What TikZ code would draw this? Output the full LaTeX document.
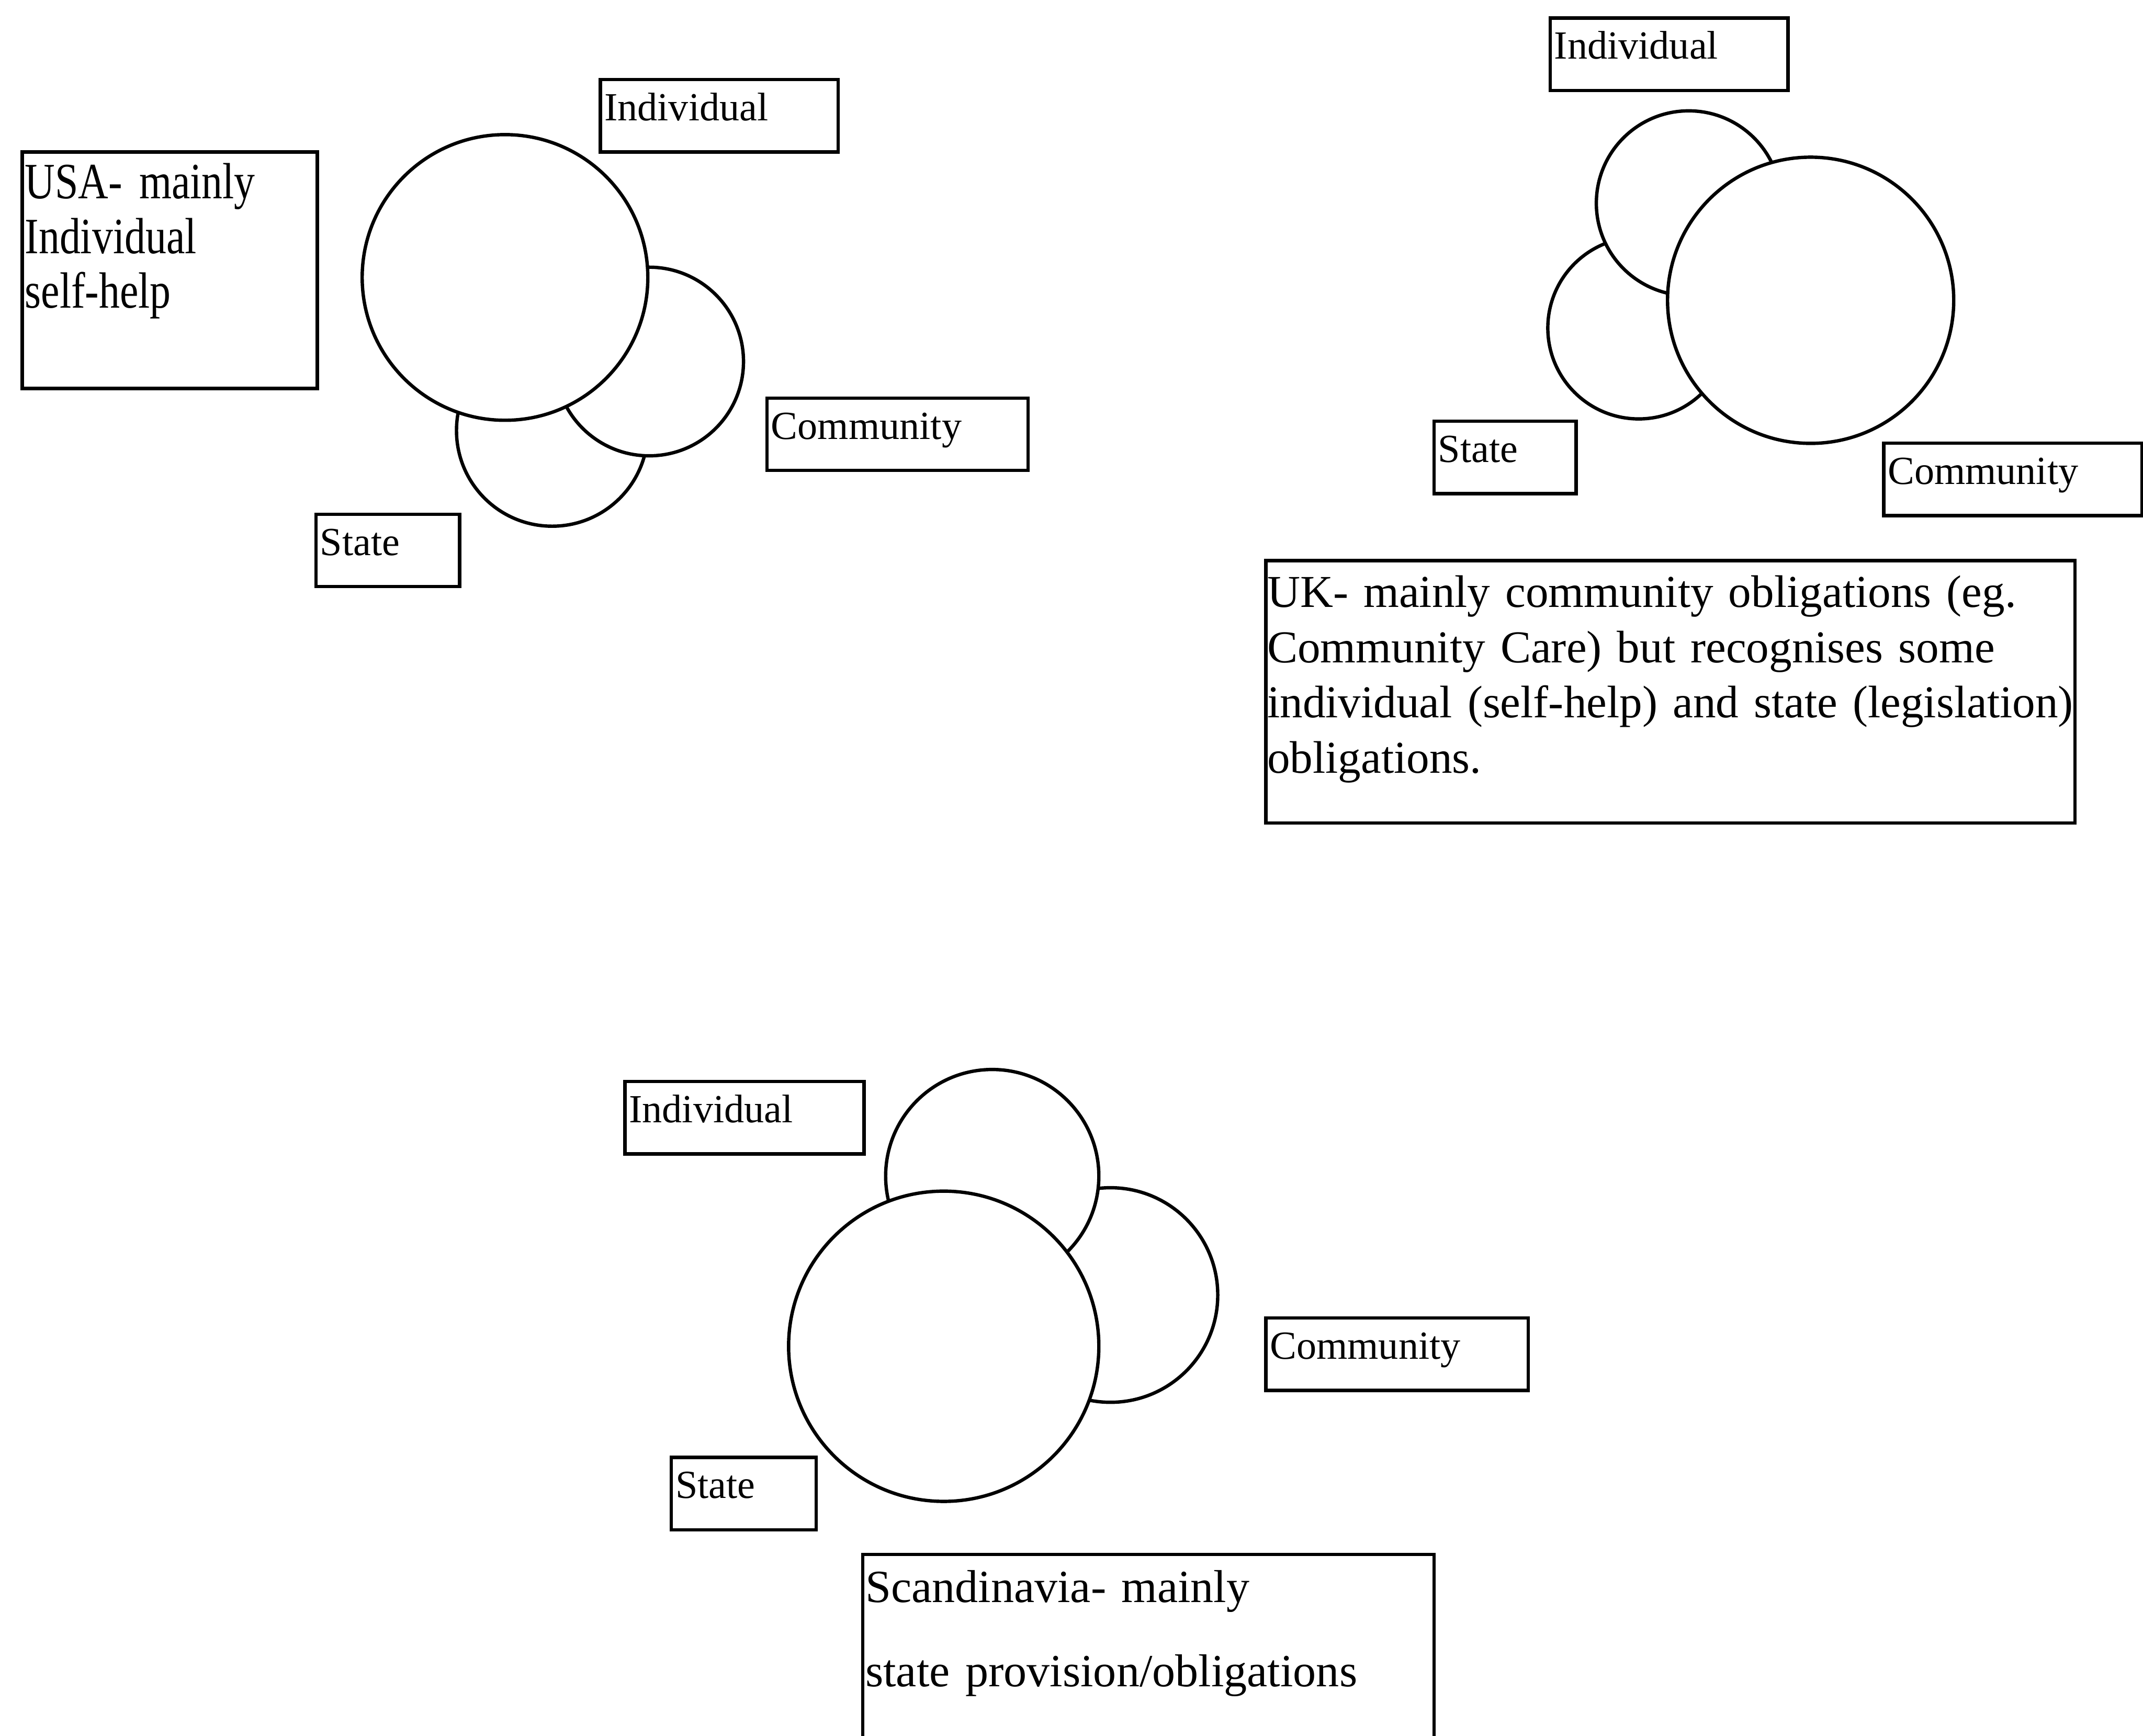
\documentclass[tikz,border=0pt]{standalone}
\usepackage{fontspec}
\setmainfont{Liberation Serif}
\newfontfamily\narrowserif[FakeStretch=0.82]{Liberation Serif}
\usepackage{tikz}
\hyphenpenalty=10000

\begin{document}
\begin{tikzpicture}[
    font=\fontsize{8.3}{10}\selectfont,
    ring/.style={draw, circle, fill=white, line width=0.7pt, inner sep=0pt},
    tag/.style={draw, anchor=north west, line width=0.7pt, inner xsep=0.3mm, inner ysep=0pt, text height=3mm, text depth=2.3mm, align=left},
    note/.style={draw, anchor=north west, line width=0.7pt, inner xsep=0.2mm, inner ysep=0pt, align=left}
]
\useasboundingbox (0,0) rectangle (15.68,-12.70);

\foreach \n/\x/\y/\d in {usaS/4.04/-3.15/1.40, usaC/4.75/-2.645/1.38, usaI/3.695/-2.03/2.09,
                         ukS/11.99/-2.40/1.33, ukI/12.356/-1.487/1.352, ukC/13.248/-2.197/2.094,
                         scC/8.125/-9.475/1.57, scI/7.26/-8.605/1.56, scS/6.905/-9.85/2.27}
  \node[ring, minimum size=\d cm] (\n) at (\x,\y) {};

\node[tag, text width=1.68cm] (usaIt) at (4.38,-0.57) {Individual};
\node[tag, text width=1.85cm] (usaCt) at (5.60,-2.90) {Community};
\node[tag, text width=0.99cm] (usaSt) at (2.30,-3.75) {State};

\node[tag, text width=1.68cm] (ukIt) at (11.33,-0.12) {Individual};
\node[tag, text width=0.98cm] (ukSt) at (10.48,-3.07) {State};
\node[tag, text width=1.83cm] (ukCt) at (13.77,-3.23) {Community};

\node[tag, text width=1.69cm] (scIt) at (4.56,-7.90) {Individual};
\node[tag, text width=1.86cm] (scCt) at (9.25,-9.63) {Community};
\node[tag, text width=1.00cm] (scSt) at (4.90,-10.65) {State};

\node[note, text width=2.12cm, text height=3.4mm, text depth=13.9mm,
      font=\narrowserif\fontsize{10.6}{11.4}\selectfont] (usaNote) at (0.15,-1.10)
  {USA- mainly\\Individual\\self-help};
\node[note, inner xsep=0.1mm, text width=5.90cm, text height=3.4mm, text depth=15.8mm,
      font=\fontsize{9.5}{11.5}\selectfont] (ukNote) at (9.25,-4.09)
  {UK- mainly community obligations (eg.\\Community Care) but recognises some\\individual (self-help) and state (legislation)\\obligations.};
\node[note, text width=4.14cm, text height=3.5mm, text depth=16mm,
      font=\fontsize{9.6}{17.6}\selectfont] (scNote) at (6.30,-11.36)
  {Scandinavia- mainly\\state provision/obligations};
\end{tikzpicture}
\end{document}
